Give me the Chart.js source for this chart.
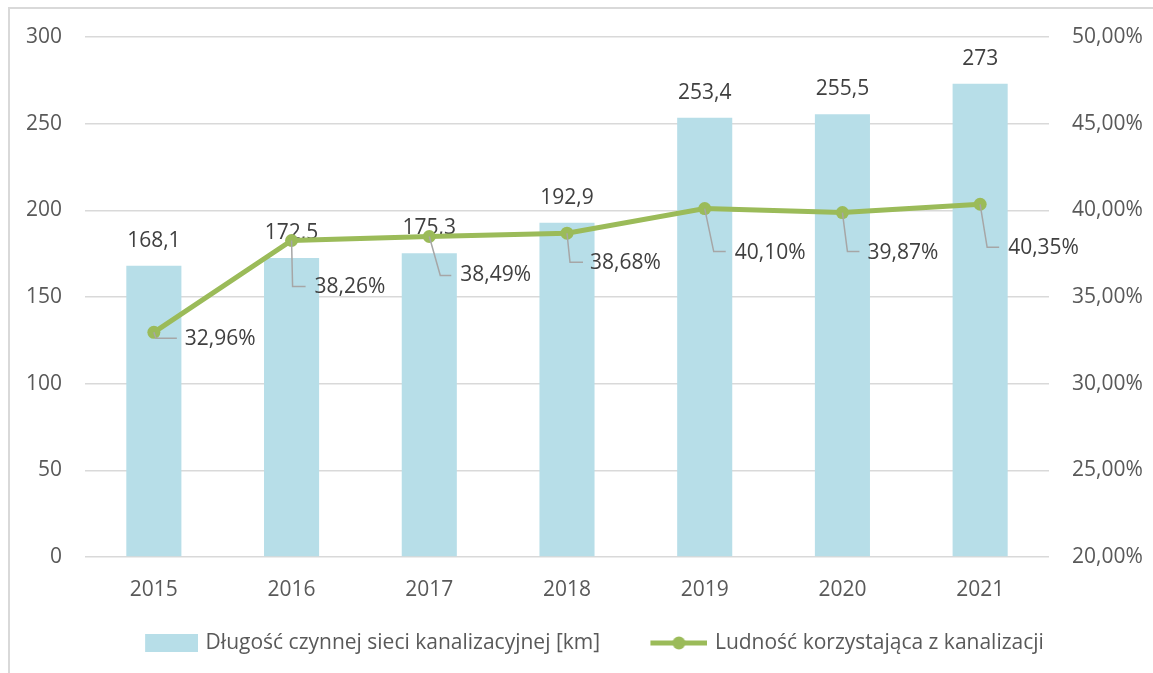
<!DOCTYPE html>
<html><head><meta charset="utf-8">
<script src="https://cdn.jsdelivr.net/npm/chart.js@4/dist/chart.umd.min.js"></script>
<style>
html,body{margin:0;padding:0;background:#fff;overflow:hidden;width:1153px;height:673px}
#frame{position:absolute;left:8px;top:7px;width:1200px;height:700px;border:2px solid #D9D9D9;box-sizing:border-box}
#wrap{position:absolute;left:0;top:0;width:1153px;height:673px}
</style></head><body>
<div id="frame"></div>
<div id="wrap"><canvas id="c"></canvas></div>
<script>
// ---- data ----
const years = ['2015', '2016', '2017', '2018', '2019', '2020', '2021'];
const networkLengthKm = [168.1, 172.5, 175.3, 192.9, 253.4, 255.5, 273];
const populationSharePct = [32.96, 38.26, 38.49, 38.68, 40.10, 39.87, 40.35];
const seriesNames = ['Długość czynnej sieci kanalizacyjnej [km]', 'Ludność korzystająca z kanalizacji'];
const leftAxis = { min: 0, max: 300, step: 50 };
const rightAxis = { min: 20, max: 50, step: 5 };

// ---- style ----
const FONT = '"Open Sans"';
const FS = 21;
const BAR_COLOR = '#B7DEE8';
const LINE_COLOR = '#9BBB59';
const GRID = '#D9D9D9';
const AXIS_TEXT = '#595959';
const LABEL_TEXT = '#404040';
// leader-line label placement per point: [corner dx, corner dy, end dx, label dx, label dy]
const lineLabelPlacement = [
  [2, 6, 23, 31, 7],
  [1, 46, 14, 23, 47],
  [11, 39, 22, 31, 39],
  [3, 29, 16, 23, 30],
  [9, 43, 21, 30, 44],
  [5, 39, 17, 25, 40],
  [7, 43, 19, 28, 44]
];

const fmtKm = v => String(v).replace('.', ',');
const fmtPct = v => v.toFixed(2).replace('.', ',') + '%';

// legend swatches: content right-aligned inside a 92px-wide canvas
const SW = 92;
function barSwatch() {
  const c = document.createElement('canvas'); c.width = SW; c.height = 18;
  const x = c.getContext('2d'); x.fillStyle = BAR_COLOR; x.fillRect(SW - 53, 0, 53, 18); return c;
}
function lineSwatch() {
  const c = document.createElement('canvas'); c.width = SW; c.height = 16;
  const x = c.getContext('2d');
  x.strokeStyle = LINE_COLOR; x.lineWidth = 5; x.beginPath(); x.moveTo(SW - 57, 8); x.lineTo(SW, 8); x.stroke();
  x.fillStyle = LINE_COLOR; x.beginPath(); x.arc(SW - 28.5, 8, 6.5, 0, Math.PI * 2); x.fill(); return c;
}
const swatches = [barSwatch(), lineSwatch()];

const labelsPlugin = {
  id: 'valueLabels',
  afterDatasetDraw(chart, args) {
    if (args.index !== 0) return;
    const ctx = chart.ctx;
    ctx.save();
    ctx.font = FS + 'px ' + FONT;
    ctx.fillStyle = LABEL_TEXT; ctx.textAlign = 'center'; ctx.textBaseline = 'middle';
    args.meta.data.forEach((bar, i) => ctx.fillText(fmtKm(networkLengthKm[i]), bar.x, bar.y - 25));
    ctx.restore();
  },
  afterDatasetsDraw(chart) {
    const meta = chart.getDatasetMeta(1);
    const ctx = chart.ctx;
    ctx.save();
    ctx.font = FS + 'px ' + FONT;
    ctx.fillStyle = LABEL_TEXT; ctx.textAlign = 'left'; ctx.textBaseline = 'middle';
    ctx.strokeStyle = '#A6A6A6'; ctx.lineWidth = 1.5;
    meta.data.forEach((p, i) => {
      const [cdx, cdy, edx, ldx, ldy] = lineLabelPlacement[i];
      ctx.beginPath();
      ctx.moveTo(p.x, p.y);
      ctx.lineTo(p.x + cdx, p.y + cdy);
      ctx.lineTo(p.x + edx, p.y + cdy);
      ctx.stroke();
      ctx.fillText(fmtPct(populationSharePct[i]), p.x + ldx, p.y + ldy);
    });
    ctx.restore();
  }
};

new Chart(document.getElementById('c'), {
  data: {
    labels: years,
    datasets: [
      {
        type: 'bar', label: seriesNames[0], data: networkLengthKm, yAxisID: 'y',
        backgroundColor: BAR_COLOR, barPercentage: 0.4, categoryPercentage: 1, order: 1
      },
      {
        type: 'line', label: seriesNames[1], data: populationSharePct, yAxisID: 'y1',
        borderColor: LINE_COLOR, backgroundColor: LINE_COLOR, borderWidth: 5,
        pointRadius: 6.5, pointBackgroundColor: LINE_COLOR, pointBorderWidth: 0,
        tension: 0, order: 0
      }
    ]
  },
  options: {
    responsive: true, maintainAspectRatio: false, animation: false,
    layout: { padding: { top: 37, left: 0, right: 0, bottom: 9.5 } },
    scales: {
      x: {
        grid: { display: false }, border: { display: false },
        ticks: { color: AXIS_TEXT, font: { family: FONT, size: FS }, padding: 12 }
      },
      y: {
        position: 'left', min: leftAxis.min, max: leftAxis.max,
        ticks: { stepSize: leftAxis.step, color: AXIS_TEXT, font: { family: FONT, size: FS }, padding: 23 },
        grid: { color: GRID, lineWidth: 1.5, drawTicks: false }, border: { display: false },
        afterFit: s => { s.width = 85; }
      },
      y1: {
        position: 'right', min: rightAxis.min, max: rightAxis.max,
        ticks: { stepSize: rightAxis.step, color: AXIS_TEXT, font: { family: FONT, size: FS }, padding: 23, callback: v => fmtPct(v) },
        grid: { display: false, drawTicks: false }, border: { display: false },
        afterFit: s => { s.width = 104; }
      }
    },
    plugins: {
      tooltip: { enabled: false },
      legend: {
        position: 'bottom',
        labels: {
          usePointStyle: true, pointStyleWidth: 86, boxHeight: FS, padding: 18.3,
          color: AXIS_TEXT, font: { family: FONT, size: FS },
          generateLabels: chart => chart.data.datasets.map((ds, i) => ({
            text: ds.label, pointStyle: swatches[i], fillStyle: ds.backgroundColor,
            strokeStyle: 'transparent', lineWidth: 0, hidden: false, datasetIndex: i, fontColor: AXIS_TEXT
          }))
        }
      }
    }
  },
  plugins: [labelsPlugin]
});
</script>
</body></html>
